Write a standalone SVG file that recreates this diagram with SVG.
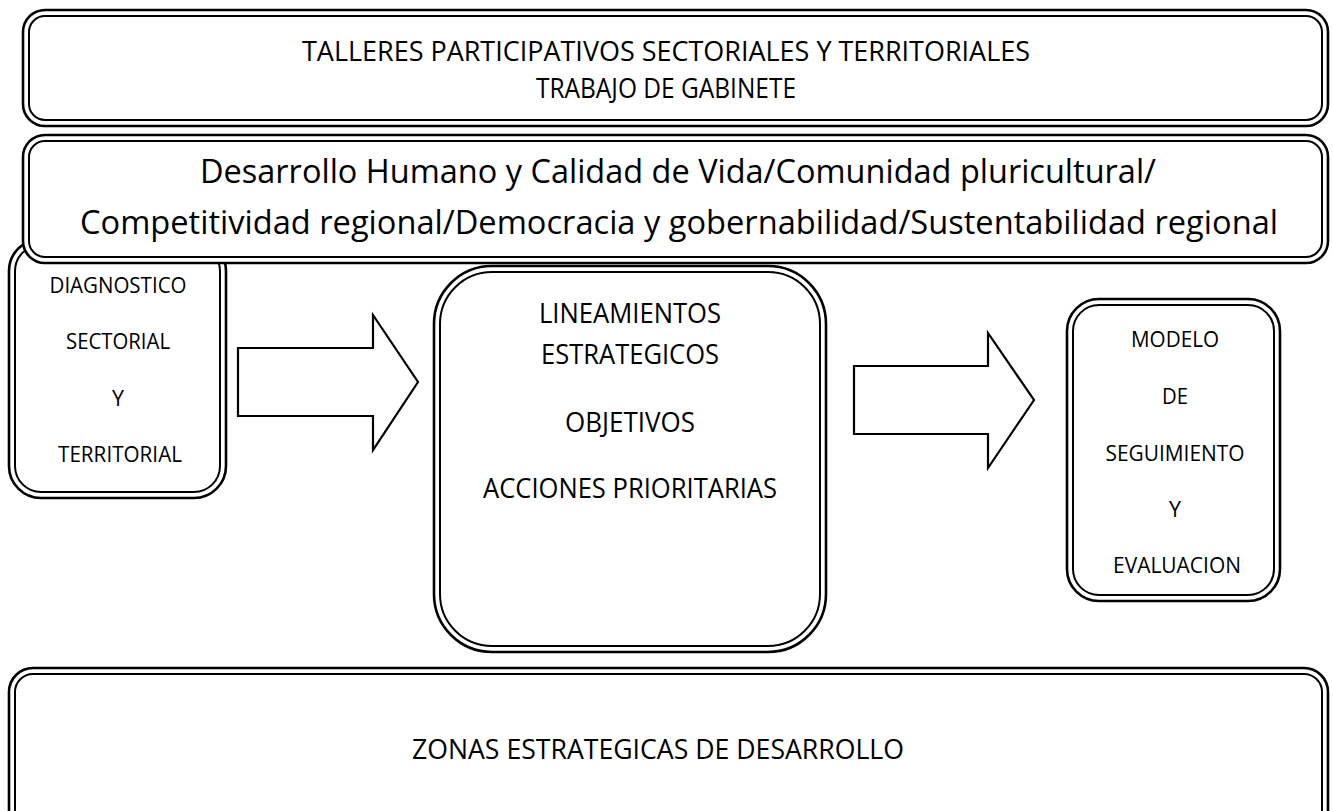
<svg xmlns="http://www.w3.org/2000/svg" width="1333" height="811" viewBox="0 0 1333 811">
<style>
.o{fill:#fff;stroke:#000;stroke-width:2.6}
.i{fill:none;stroke:#000;stroke-width:2}
.a{fill:#fff;stroke:#000;stroke-width:2.2;stroke-linejoin:miter}
text{font-family:"Open Sans","Noto Sans","Liberation Sans",sans-serif;fill:#000;text-anchor:middle}
.s{font-size:21.5px}
.m{font-size:26.8px}
.t{font-size:28.2px}
.b{font-size:33.5px}
</style>
<rect width="1333" height="811" fill="#fff"/>
<g id="diagnostico">
<rect class="o" x="9" y="239" width="217" height="259" rx="32"/>
<rect class="i" x="15" y="245" width="205" height="247" rx="26"/>
<text class="s" x="118" y="293" textLength="137" lengthAdjust="spacingAndGlyphs">DIAGNOSTICO</text>
<text class="s" x="118" y="349" textLength="104" lengthAdjust="spacingAndGlyphs">SECTORIAL</text>
<text class="s" x="118" y="406">Y</text>
<text class="s" x="120" y="462" textLength="124" lengthAdjust="spacingAndGlyphs">TERRITORIAL</text>
</g>
<g id="talleres">
<rect class="o" x="23" y="10" width="1305" height="116" rx="22"/>
<rect class="i" x="29" y="16" width="1293" height="104" rx="16"/>
<text class="t" x="666" y="61" textLength="728" lengthAdjust="spacingAndGlyphs">TALLERES PARTICIPATIVOS SECTORIALES Y TERRITORIALES</text>
<text class="t" x="666" y="98" textLength="260" lengthAdjust="spacingAndGlyphs">TRABAJO DE GABINETE</text>
</g>
<g id="ejes">
<rect class="o" x="23" y="135" width="1305" height="128" rx="22"/>
<rect class="i" x="29" y="141" width="1293" height="116" rx="16"/>
<text class="b" x="678" y="183" textLength="956" lengthAdjust="spacingAndGlyphs">Desarrollo Humano y Calidad de Vida/Comunidad pluricultural/</text>
<text class="b" x="679" y="234" textLength="1198" lengthAdjust="spacingAndGlyphs">Competitividad regional/Democracia y gobernabilidad/Sustentabilidad regional</text>
</g>
<g id="lineamientos">
<rect class="o" x="434" y="266" width="392" height="386" rx="58"/>
<rect class="i" x="440" y="272" width="380" height="374" rx="52"/>
<text class="m" x="630" y="323" textLength="182" lengthAdjust="spacingAndGlyphs">LINEAMIENTOS</text>
<text class="m" x="630" y="364" textLength="178" lengthAdjust="spacingAndGlyphs">ESTRATEGICOS</text>
<text class="m" x="630" y="432" textLength="130" lengthAdjust="spacingAndGlyphs">OBJETIVOS</text>
<text class="m" x="630" y="498" textLength="294" lengthAdjust="spacingAndGlyphs">ACCIONES PRIORITARIAS</text>
</g>
<g id="modelo">
<rect class="o" x="1067" y="299" width="213" height="302" rx="32"/>
<rect class="i" x="1073" y="305" width="201" height="290" rx="26"/>
<text class="s" x="1175" y="347" textLength="88" lengthAdjust="spacingAndGlyphs">MODELO</text>
<text class="s" x="1175" y="404" textLength="26" lengthAdjust="spacingAndGlyphs">DE</text>
<text class="s" x="1175" y="461" textLength="139" lengthAdjust="spacingAndGlyphs">SEGUIMIENTO</text>
<text class="s" x="1175" y="517">Y</text>
<text class="s" x="1177" y="573" textLength="128" lengthAdjust="spacingAndGlyphs">EVALUACION</text>
</g>
<g id="zonas">
<rect class="o" x="9" y="668" width="1319" height="170" rx="24"/>
<rect class="i" x="15" y="674" width="1307" height="158" rx="18"/>
<text class="t" x="658" y="759" textLength="492" lengthAdjust="spacingAndGlyphs">ZONAS ESTRATEGICAS DE DESARROLLO</text>
</g>
<g id="connectors">
<polygon class="a" points="238,348 373,348 373,315 418,382 373,450 373,416 238,416"/>
<polygon class="a" points="854,366 988,366 988,333 1034,400 988,468 988,434 854,434"/>
</g>
</svg>
